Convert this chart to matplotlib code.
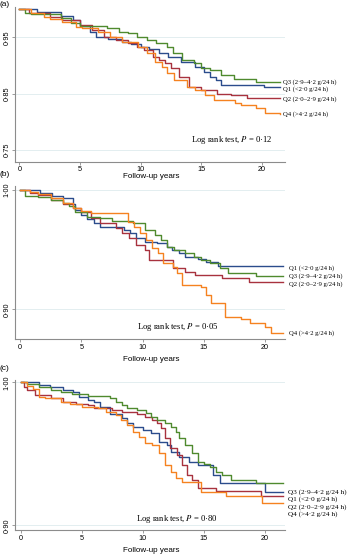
import matplotlib
matplotlib.use('Agg')
import matplotlib.pyplot as plt

plt.rcParams['font.family'] = 'Liberation Sans'
plt.rcParams['mathtext.fontset'] = 'stix'

# --- data ---
groups = ['Q1', 'Q2', 'Q3', 'Q4']
group_labels = {'Q1': 'Q1 (<2·0 g/24 h)', 'Q2': 'Q2 (2·0–2·9 g/24 h)',
                'Q3': 'Q3 (2·9–4·2 g/24 h)', 'Q4': 'Q4 (>4·2 g/24 h)'}

# panel (a)
a_q1_t = [0, 1.5, 3.4, 4.4, 5.0, 5.8, 6.3, 7.3, 8.5, 9.2, 10.0, 10.7, 11.5, 12.3, 13.3, 14.5, 15.2, 15.7, 16.2, 16.6, 20.2, 21.5]
a_q1_s = [1.0, 0.9956, 0.9879, 0.9808, 0.9701, 0.9601, 0.9512, 0.9470, 0.9423, 0.9382, 0.9334, 0.9287, 0.9216, 0.9157, 0.9068, 0.8979, 0.8891, 0.8790, 0.8743, 0.8654, 0.8612, 0.8612]
a_q2_t = [0, 0.8, 2.5, 3.5, 5.0, 6.0, 7.0, 8.0, 9.0, 9.7, 10.3, 11.0, 11.5, 12.0, 12.5, 13.2, 14.0, 15.0, 16.3, 17.5, 18.8, 21.5]
a_q2_s = [1.0, 0.9926, 0.9867, 0.9808, 0.9719, 0.9630, 0.9512, 0.9453, 0.9393, 0.9334, 0.9275, 0.9157, 0.9098, 0.9038, 0.8950, 0.8802, 0.8612, 0.8565, 0.8500, 0.8476, 0.8429, 0.8429]
a_q3_t = [0, 0.5, 1.0, 3.4, 4.3, 5.0, 7.2, 8.2, 9.0, 9.7, 10.5, 11.3, 12.2, 12.7, 13.4, 14.4, 15.0, 15.7, 16.6, 17.7, 19.5, 21.5]
a_q3_s = [1.0, 0.9938, 0.9914, 0.9837, 0.9760, 0.9701, 0.9660, 0.9601, 0.9571, 0.9500, 0.9453, 0.9405, 0.9334, 0.9216, 0.9098, 0.9038, 0.8950, 0.8920, 0.8831, 0.8760, 0.8713, 0.8713]
a_q4_t = [0, 1.0, 2.0, 2.5, 3.5, 4.7, 5.2, 6.5, 7.5, 8.5, 9.8, 10.5, 11.2, 11.8, 12.2, 12.8, 13.8, 14.5, 15.3, 16.1, 17.8, 18.3, 19.5, 20.3, 21.5]
a_q4_s = [1.0, 0.9926, 0.9867, 0.9820, 0.9778, 0.9689, 0.9660, 0.9601, 0.9512, 0.9423, 0.9334, 0.9216, 0.9068, 0.8979, 0.8861, 0.8743, 0.8612, 0.8565, 0.8476, 0.8388, 0.8328, 0.8299, 0.8240, 0.8151, 0.8133]

# panel (b)
b_q1_t = [0, 1.6, 2.6, 3.5, 4.3, 4.5, 5.0, 5.5, 6.0, 6.5, 8.5, 9.0, 9.5, 10.2, 11.2, 12.0, 12.4, 13.0, 13.5, 14.5, 15.2, 16.2, 21.5]
b_q1_s = [1.0, 0.9978, 0.9950, 0.9930, 0.9883, 0.9832, 0.9791, 0.9754, 0.9721, 0.9687, 0.9665, 0.9637, 0.9595, 0.9567, 0.9553, 0.9525, 0.9497, 0.9475, 0.9441, 0.9419, 0.9399, 0.9363, 0.9363]
b_q2_t = [0, 0.8, 1.5, 2.5, 3.5, 4.3, 5.0, 5.8, 6.5, 7.8, 8.3, 8.9, 9.5, 10.2, 10.5, 12.5, 13.5, 14.3, 16.5, 18.7, 21.5]
b_q2_s = [1.0, 0.9972, 0.9958, 0.9916, 0.9883, 0.9846, 0.9818, 0.9763, 0.9721, 0.9679, 0.9637, 0.9595, 0.9539, 0.9497, 0.9413, 0.9344, 0.9316, 0.9288, 0.9260, 0.9232, 0.9232]
b_q3_t = [0, 0.4, 1.5, 2.5, 3.5, 4.0, 4.5, 5.5, 6.5, 7.5, 9.2, 10.2, 11.0, 11.5, 12.0, 12.6, 13.5, 14.2, 14.8, 15.5, 16.3, 17.0, 19.3, 21.5]
b_q3_s = [1.0, 0.9950, 0.9939, 0.9916, 0.9894, 0.9866, 0.9818, 0.9777, 0.9763, 0.9743, 0.9726, 0.9665, 0.9623, 0.9581, 0.9525, 0.9497, 0.9469, 0.9441, 0.9413, 0.9385, 0.9344, 0.9307, 0.9279, 0.9279]
b_q4_t = [0, 0.8, 1.5, 2.5, 3.5, 4.3, 5.0, 5.8, 8.8, 9.3, 9.8, 10.3, 10.8, 11.3, 11.7, 12.5, 12.8, 13.2, 14.8, 15.2, 15.6, 16.7, 18.0, 18.8, 20.0, 20.5, 21.5]
b_q4_s = [1.0, 0.9986, 0.9966, 0.9930, 0.9888, 0.9846, 0.9827, 0.9804, 0.9735, 0.9693, 0.9637, 0.9581, 0.9511, 0.9469, 0.9385, 0.9352, 0.9302, 0.9204, 0.9190, 0.9120, 0.9050, 0.8939, 0.8916, 0.8888, 0.8855, 0.8799, 0.8799]

# panel (c)
c_q1_t = [0, 1.5, 2.4, 3.5, 4.3, 4.8, 5.5, 6.0, 6.5, 7.3, 8.3, 8.7, 9.2, 10.0, 10.7, 11.3, 12.0, 12.3, 13.0, 13.8, 14.5, 15.8, 16.3, 20.0, 21.5]
c_q1_s = [1.0, 0.9981, 0.9970, 0.9946, 0.9930, 0.9900, 0.9876, 0.9860, 0.9830, 0.9776, 0.9748, 0.9713, 0.9690, 0.9667, 0.9643, 0.9585, 0.9562, 0.9510, 0.9480, 0.9445, 0.9422, 0.9352, 0.9294, 0.9231, 0.9231]
c_q2_t = [0, 0.3, 0.5, 1.2, 2.5, 3.5, 4.5, 5.5, 6.0, 7.5, 8.3, 9.5, 10.2, 10.8, 11.2, 11.5, 11.8, 12.2, 12.8, 13.2, 13.6, 14.0, 14.5, 16.0, 19.7, 21.5]
c_q2_s = [1.0, 0.9970, 0.9946, 0.9911, 0.9888, 0.9865, 0.9846, 0.9841, 0.9818, 0.9807, 0.9795, 0.9776, 0.9760, 0.9737, 0.9713, 0.9678, 0.9608, 0.9538, 0.9492, 0.9422, 0.9352, 0.9317, 0.9259, 0.9240, 0.9205, 0.9205]
c_q3_t = [0, 0.5, 1.5, 2.5, 3.3, 4.2, 5.5, 7.3, 7.8, 8.3, 8.7, 9.5, 10.3, 10.7, 11.2, 11.8, 12.3, 12.7, 13.0, 13.5, 14.0, 14.5, 15.0, 15.5, 16.0, 16.5, 17.2, 19.3, 21.5]
c_q3_s = [1.0, 0.9986, 0.9970, 0.9946, 0.9935, 0.9916, 0.9904, 0.9888, 0.9865, 0.9841, 0.9818, 0.9807, 0.9783, 0.9760, 0.9737, 0.9713, 0.9690, 0.9655, 0.9608, 0.9562, 0.9503, 0.9445, 0.9427, 0.9410, 0.9375, 0.9352, 0.9317, 0.9294, 0.9294]
c_q4_t = [0, 0.5, 1.0, 1.5, 2.0, 3.3, 4.0, 5.0, 6.3, 7.0, 7.8, 8.2, 8.7, 9.2, 9.7, 10.2, 10.8, 11.3, 11.8, 12.3, 12.7, 13.2, 14.8, 16.8, 19.8, 21.5]
c_q4_s = [1.0, 0.9977, 0.9953, 0.9900, 0.9888, 0.9865, 0.9846, 0.9830, 0.9818, 0.9795, 0.9772, 0.9737, 0.9702, 0.9655, 0.9620, 0.9573, 0.9562, 0.9503, 0.9422, 0.9375, 0.9329, 0.9305, 0.9235, 0.9205, 0.9154, 0.9154]

x_ticks = [0, 5, 10, 15, 20]
a_yticks = [0.75, 0.85, 0.95]
a_yticklabels = ['0·75', '0·85', '0·95']
b_yticks = [0.90, 1.00]
b_yticklabels = ['0·90', '1·00']
c_yticks = [0.90, 1.00]
c_yticklabels = ['0·90', '1·00']
p_values = ['0·12', '0·05', '0·80']

colors = {'Q1': '#2b4c8c', 'Q2': '#a8323e', 'Q3': '#4f8a2e', 'Q4': '#f58220'}

panels = [
    dict(curves={'Q1': (a_q1_t, a_q1_s), 'Q2': (a_q2_t, a_q2_s), 'Q3': (a_q3_t, a_q3_s), 'Q4': (a_q4_t, a_q4_s)},
         yticks=a_yticks, yticklabels=a_yticklabels, p=p_values[0], tag='(a)',
         rect=(15, 7, 285, 161.7), xlim=(-0.355, 21.92), ylim=(0.729, 1.004),
         lab_x=21.76, lab_y={'Q3': 0.8711, 'Q1': 0.8576, 'Q2': 0.8404, 'Q4': 0.8132},
         lab_fs=4.8, p_xy=(17.55, 0.7676), tag_y=4, xlab_y=176.5),
    dict(curves={'Q1': (b_q1_t, b_q1_s), 'Q2': (b_q2_t, b_q2_s), 'Q3': (b_q3_t, b_q3_s), 'Q4': (b_q4_t, b_q4_s)},
         yticks=b_yticks, yticklabels=b_yticklabels, p=p_values[1], tag='(b)',
         rect=(15, 186, 285, 339.3), xlim=(-0.41, 21.63), ylim=(0.875, 1.0034),
         lab_x=21.96, lab_y={'Q1': 0.9349, 'Q3': 0.9279, 'Q2': 0.9209, 'Q4': 0.8804},
         lab_fs=4.8, p_xy=(12.9, 0.8854), tag_y=175, xlab_y=359.5),
    dict(curves={'Q1': (c_q1_t, c_q1_s), 'Q2': (c_q2_t, c_q2_s), 'Q3': (c_q3_t, c_q3_s), 'Q4': (c_q4_t, c_q4_s)},
         yticks=c_yticks, yticklabels=c_yticklabels, p=p_values[2], tag='(c)',
         rect=(15, 380, 285, 530), xlim=(-0.467, 21.66), ylim=(0.8967, 1.0016),
         lab_x=21.87, lab_y={'Q3': 0.9235, 'Q1': 0.9184, 'Q2': 0.9130, 'Q4': 0.9079},
         lab_fs=5.2, p_xy=(12.8, 0.9044), tag_y=369, xlab_y=550),
]

W, H = 350, 556
fig = plt.figure(figsize=(W / 100, H / 100), dpi=100)
axis_gray = '#8c8c8c'

for p in panels:
    l, t, r, b = p['rect']
    ax = fig.add_axes([l / W, 1 - b / H, (r - l) / W, (b - t) / H])
    for y in p['yticks']:
        ax.axhline(y, color='#e3eef0', lw=0.7, zorder=0)
    for g in groups:
        tt, ss = p['curves'][g]
        ax.step(tt, ss, where='post', color=colors[g], lw=1.0, zorder=2)
        ax.text(p['lab_x'], p['lab_y'][g], group_labels[g], family='Liberation Serif',
                fontsize=p['lab_fs'], va='center', ha='left', clip_on=False)
    ax.text(p['p_xy'][0], p['p_xy'][1], 'Log rank test, $P$ = ' + p['p'],
            family='Liberation Serif', fontsize=6.2, ha='center', va='center')
    ax.set_xlim(*p['xlim'])
    ax.set_ylim(*p['ylim'])
    ax.set_xticks(x_ticks)
    ax.set_xticklabels([str(x) for x in x_ticks], fontsize=5.2)
    ax.set_yticks(p['yticks'])
    ax.set_yticklabels(p['yticklabels'], fontsize=5.2, rotation=90, va='center')
    ax.tick_params(length=2.2, width=0.6, color=axis_gray, pad=1.2)
    for s in ['top', 'right']:
        ax.spines[s].set_visible(False)
    for s in ['left', 'bottom']:
        ax.spines[s].set_color(axis_gray)
        ax.spines[s].set_linewidth(0.8)
    fig.text(151 / W, 1 - p['xlab_y'] / H, 'Follow-up years', fontsize=5.8,
             ha='center', va='center')
    fig.text(0.0, 1 - p['tag_y'] / H, p['tag'], fontsize=6, ha='left', va='center')

fig.savefig('out.png', dpi=100)
